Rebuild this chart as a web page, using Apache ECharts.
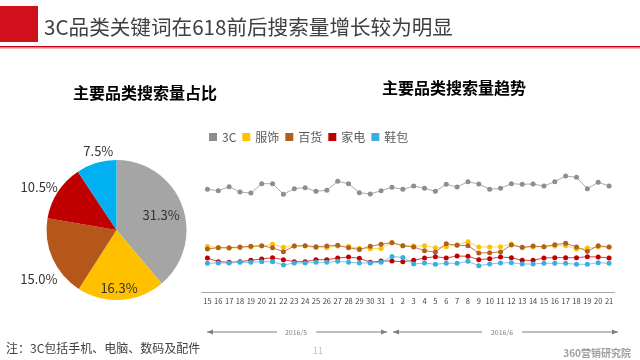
<!DOCTYPE html>
<html><head><meta charset="utf-8">
<script src="https://cdn.jsdelivr.net/npm/echarts@6/dist/echarts.min.js"></script>
<style>html,body{margin:0;padding:0;background:#fff}#c{width:640px;height:360px}</style>
</head><body><div id="c"></div>
<script>
// ---- data ----
const categories = ['3C', '服饰', '百货', '家电', '鞋包'];
const pieShares = [31.3, 16.3, 15.0, 10.5, 7.5];
const days = ['15','16','17','18','19','20','21','22','23','24','25','26','27','28','29','30','31',
              '1','2','3','4','5','6','7','8','9','10','11','12','13','14','15','16','17','18','19','20','21'];
const s3C = [102.7,101.3,105.3,100,99,108.3,108.3,97.7,103.3,104.3,100.7,101.7,110.7,108.3,99.3,98,101.3,104.7,102.7,
             106,103.7,100.7,107.7,105,110.3,108,102.7,103.7,108.3,107.7,108,106,110.3,116,114.7,103.3,109.7,106];
const sFushi = [45.5,44.5,43.7,44.3,45,46,47.7,44.8,46,46,44.3,44.3,46,45.7,43.8,43.3,43.5,49.5,46.2,
                46,46.3,44.3,45.3,47.3,50.3,45,45,45.3,48,44.3,45,45.3,46,46.3,43,44,45,45];
const sBaihuo = [43,44.3,44.3,45,45.7,46.3,44.2,40.3,46,46.3,45.3,46,46.7,44.2,42.5,45.7,47.7,49.3,46.3,
                 45,41.3,40,48.3,46.7,46.3,39,39.3,40,47,44.7,46,45.3,47.3,48.7,45,40.7,46.3,45];
const sJiadian = [34,30.3,29.7,30.3,31.7,33,34.3,32.3,30.3,30.3,32.3,32.3,34,35,33.7,29.7,31,31,30.3,
                  31.7,34,35.3,34,36,35.7,32.3,33.3,35,34.3,31.7,31.7,34,34.3,34.3,34.3,35.3,35,34];
const sXiebao = [28.7,29,29,29.7,29.7,30.3,30.3,27,29,29,29.7,29.7,30.7,29.7,29,29,29.7,35.5,34.5,
                 28,29,27.7,28.7,28.7,30.7,26.3,28,29,29.3,28,28,28.7,28.7,28.7,27.7,27.7,29.3,28.7];
const monthLabels = ['2016/5', '2016/6'];

// ---- styles ----
const FONT = '"Noto Sans CJK SC", "Noto Sans", sans-serif';
const pieColors = ['#A5A5A5', '#FFC000', '#B5561B', '#C00000', '#00B0F0'];
const markColors = ['#8E8E8E', '#FFC000', '#B0601E', '#C00000', '#3AAEE0'];
const lineColors = ['#ABABAB', '#FFD45C', '#C27A45', '#D04545', '#7CC8EA'];
const lineData = [s3C, sFushi, sBaihuo, sJiadian, sXiebao];

const chart = echarts.init(document.getElementById('c'), null, {renderer: 'canvas'});

const pieLabelNudge = [[9, -2], [0, 20], [10, 21], [5, -5], [22, -12]];

function arrow(x1, x2, y, dir) {
  const hx = dir < 0 ? x1 : x2;
  return [{
    type: 'line', shape: {x1: x1, y1: y, x2: x2, y2: y},
    style: {stroke: '#7F7F7F', lineWidth: 1}
  }, {
    type: 'polygon',
    shape: {points: dir < 0 ? [[hx, y], [hx + 6, y - 2.5], [hx + 6, y + 2.5]]
                             : [[hx, y], [hx - 6, y - 2.5], [hx - 6, y + 2.5]]},
    style: {fill: '#7F7F7F'}
  }];
}

const graphics = [
  {type: 'rect', shape: {x: 0, y: 6, width: 38, height: 36}, style: {fill: '#D0111B'}},
  {type: 'text', x: 44, y: 27, style: {text: '3C品类关键词在618前后搜索量增长较为明显', font: '20.6px ' + FONT, fill: '#404040', textVerticalAlign: 'middle'}},
  {type: 'rect', shape: {x: 0, y: 46, width: 640, height: 1.5}, style: {fill: '#C0001A'}},
  {type: 'rect', shape: {x: 0, y: 48, width: 640, height: 1}, style: {fill: '#F0B8B8'}},
  {type: 'text', x: 145, y: 93, style: {text: '主要品类搜索量占比', font: 'bold 16px ' + FONT, fill: '#000', textAlign: 'center', textVerticalAlign: 'middle'}},
  {type: 'text', x: 454, y: 88, style: {text: '主要品类搜索量趋势', font: 'bold 16px ' + FONT, fill: '#000', textAlign: 'center', textVerticalAlign: 'middle'}},
  {type: 'text', x: 6, y: 348, style: {text: '注：3C包括手机、电脑、数码及配件', font: '12px ' + FONT, fill: '#404040', textVerticalAlign: 'middle'}},
  {type: 'text', x: 318, y: 351, style: {text: '11', font: '9px ' + FONT, fill: '#BFBFBF', textAlign: 'center', textVerticalAlign: 'middle'}},
  {type: 'text', x: 631, y: 353, style: {text: '360营销研究院', font: 'bold 10px ' + FONT, fill: '#A0A0A0', textAlign: 'right', textVerticalAlign: 'middle'}},
  {type: 'text', x: 296, y: 332, style: {text: monthLabels[0], font: '7px ' + FONT, fill: '#7F7F7F', textAlign: 'center', textVerticalAlign: 'middle'}},
  {type: 'text', x: 502, y: 332, style: {text: monthLabels[1], font: '7px ' + FONT, fill: '#7F7F7F', textAlign: 'center', textVerticalAlign: 'middle'}}
].concat(arrow(207, 277, 332, -1), arrow(316, 387, 332, 1), arrow(393, 482, 332, -1), arrow(522, 618, 332, 1));

const lineSeries = categories.map((name, i) => ({
  type: 'line', name: name, data: lineData[i],
  symbol: 'circle', symbolSize: 5, showSymbol: true,
  itemStyle: {color: markColors[i]},
  lineStyle: {color: lineColors[i], width: 1},
  emphasis: {disabled: true}, animation: false, z: 2 + i
}));

const option = {
  backgroundColor: '#fff',
  animation: false,
  textStyle: {fontFamily: FONT},
  legend: {
    data: categories, left: 204, top: 126, icon: 'rect', itemWidth: 8, itemHeight: 8, itemGap: 6,
    textStyle: {fontSize: 12, color: '#595959', fontFamily: FONT}
  },
  grid: {left: 202, right: 25.5, top: 142, bottom: 68},
  xAxis: {
    type: 'category', data: days, boundaryGap: true,
    axisLine: {lineStyle: {color: '#A6A6A6', width: 1}},
    axisTick: {show: false},
    axisLabel: {interval: 0, fontSize: 7.5, color: '#404040', margin: 5, fontFamily: FONT}
  },
  yAxis: {type: 'value', min: 0, max: 150, show: false, splitLine: {show: false}},
  series: [{
    type: 'pie', name: '占比', center: [116.5, 230], radius: [0, 70],
    startAngle: 90, clockwise: true, avoidLabelOverlap: false,
    data: categories.map((n, i) => ({
      name: n, value: pieShares[i], itemStyle: {color: pieColors[i]},
      label: {position: i < 2 ? 'inside' : 'outside'}
    })),
    label: {
      formatter: (p) => p.value.toFixed(1) + '%', fontSize: 13, color: '#333333', fontFamily: FONT
    },
    labelLine: {show: false, length: 0, length2: 0},
    labelLayout: (params) => {
      const n = pieLabelNudge[params.dataIndex];
      return {dx: n[0], dy: n[1]};
    },
    emphasis: {disabled: true}
  }].concat(lineSeries),
  graphic: graphics
};
chart.setOption(option);
</script></body></html>
